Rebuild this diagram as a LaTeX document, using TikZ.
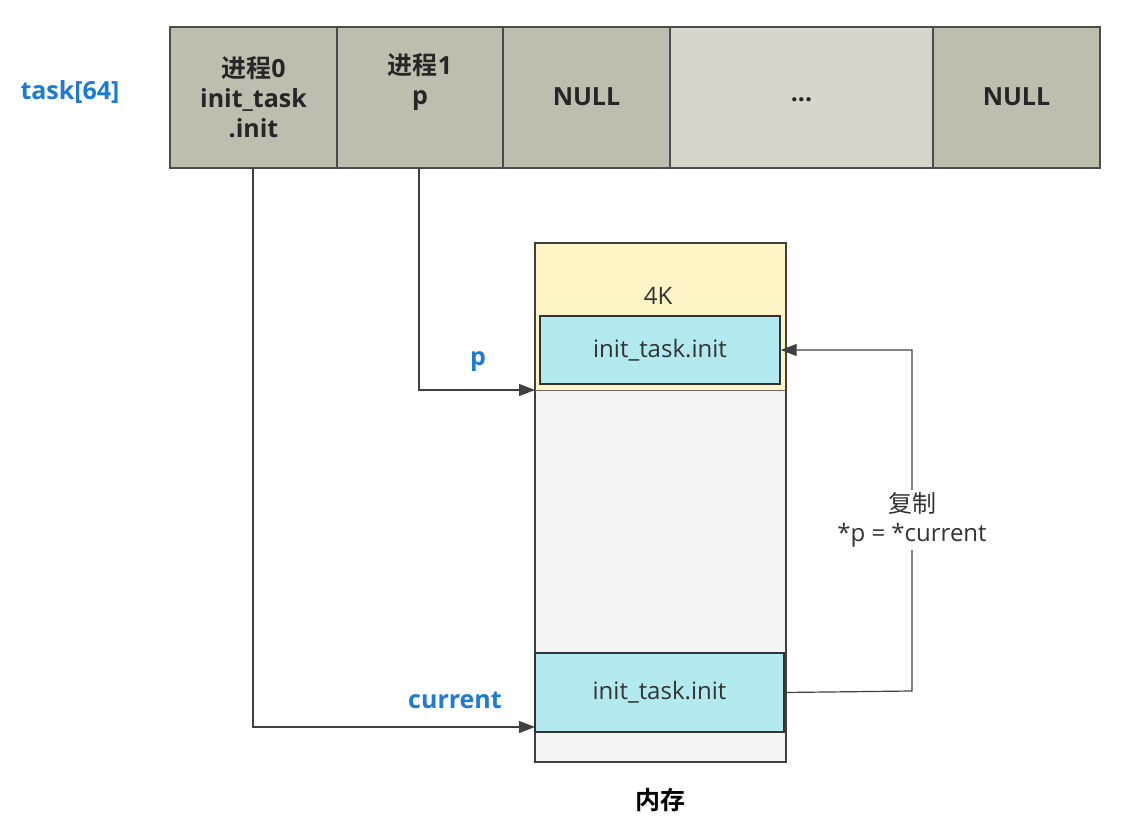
\documentclass[tikz,border=0pt]{standalone}
\usepackage{fontspec}
\setmainfont{Open Sans}[BoldFont={Open Sans Bold}]
\newfontfamily\cjk{Noto Sans CJK SC}[BoldFont={Noto Sans CJK SC Bold}]
\usetikzlibrary{arrows.meta}
\definecolor{cellg}{HTML}{BEBEAE}
\definecolor{celll}{HTML}{D6D6CA}
\definecolor{yel}{HTML}{FFF4C6}
\definecolor{memg}{HTML}{F4F4F4}
\definecolor{cy}{HTML}{B2EAF0}
\definecolor{blu}{HTML}{1F7AD4}
\begin{document}
\begin{tikzpicture}[x=1pt,y=-1pt,
 cell/.style={draw=black!70,line width=1.2pt,fill=cellg,font=\fontsize{25}{30}\selectfont\bfseries,align=center,text=black!85},
 arr/.style={draw=black!75,line width=1.2pt,-{Triangle[length=16pt,width=12pt]}},
 bl/.style={text=blu,font=\fontsize{25}{30}\selectfont\bfseries},
 tx/.style={font=\fontsize{24}{29}\selectfont,text=black!80}]
\useasboundingbox (0,0) rectangle (1128,818);
\path[cell] (170,27) rectangle (337,168);
\path[cell] (337,27) rectangle (503,168);
\path[cell] (503,27) rectangle (670,168);
\path[cell,fill=celll] (670,27) rectangle (933,168);
\path[cell] (933,27) rectangle (1100,168);
\node[cell,draw=none,fill=none] (c0) at (253.5,97) {{\cjk\bfseries 进程}0\\init\_task\\.init};
\node[cell,draw=none,fill=none] (c1) at (420,82) {{\cjk\bfseries 进程}1\\p};
\node[cell,draw=none,fill=none] (c2) at (586.5,97) {NULL};
\node[cell,draw=none,fill=none] (c3) at (801.5,100) {...};
\node[cell,draw=none,fill=none] (c4) at (1016.5,97) {NULL};
\node[bl] (task) at (70,92) {task[64]};
% memory
\fill[memg] (535,390) rectangle (786,762);
\fill[yel] (535,243) rectangle (786,390);
\draw[black!75,line width=1.2pt] (535,243) rectangle (786,762);
\draw[black!60,line width=0.8pt] (535,390) -- (786,390);
\node[tx] (k4) at (658,296) {4K};
\node[draw=black!80,line width=1.4pt,fill=cy,minimum width=240pt,minimum height=68pt,tx] (top) at (660,350) {init\_task.init};
\node[draw=black!80,line width=1.4pt,fill=cy,minimum width=249pt,minimum height=79pt,tx] (bot) at (659.5,692.5) {init\_task.init};
\node[font=\cjk\bfseries\fontsize{25}{30}\selectfont] (mem) at (660,800) {内存};
\coordinate (pin) at (535,390);
\coordinate (cin) at (535,727);
\draw[arr] (253,168) |- (cin);
\draw[arr] (419,168) |- (pin);
\node[bl] (pl) at (478,362) {p};
\node[bl] (cl) at (455,700) {current};
\draw[arr] (bot.east) -- (912,691) |- (top.east);
\node[tx,fill=white,align=center,inner sep=3pt] (cp) at (912,520) {{\cjk 复制}\\*p = *current};
\end{tikzpicture}
\end{document}
